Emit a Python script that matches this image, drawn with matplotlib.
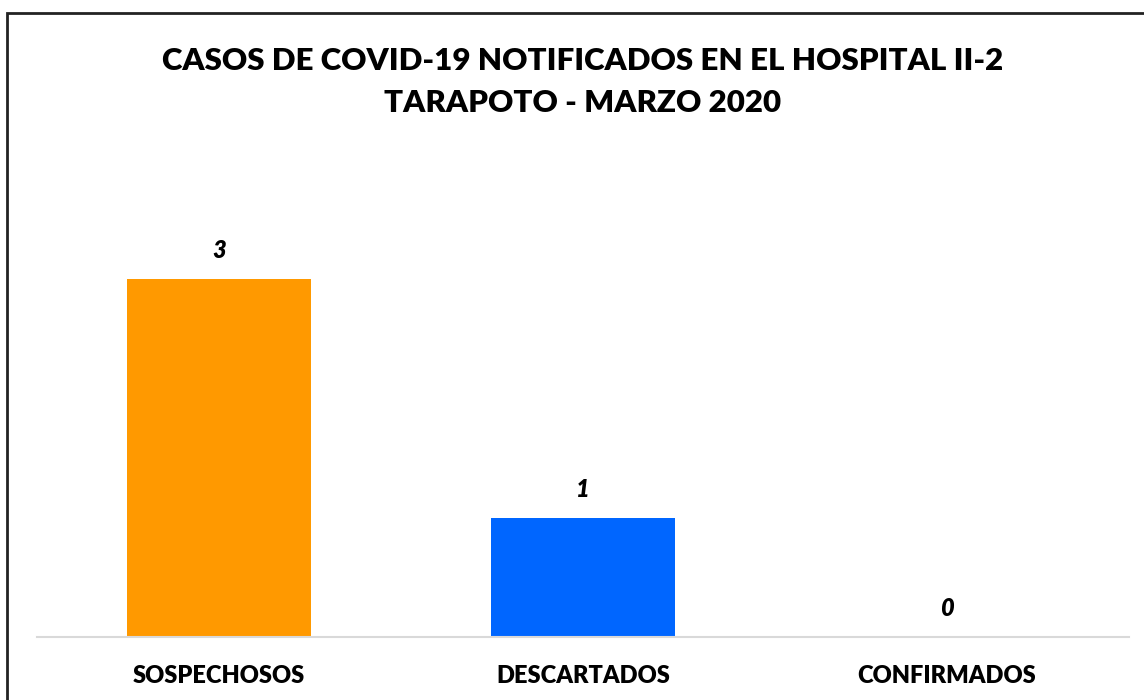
import matplotlib.pyplot as plt
from matplotlib.patches import Rectangle

# chart data
categories = ["SOSPECHOSOS", "DESCARTADOS", "CONFIRMADOS"]
cases = [3, 1, 0]
bar_colors = ["#FF9900", "#0066FF", "#A5A5A5"]
title = "CASOS DE COVID-19 NOTIFICADOS EN EL HOSPITAL II-2\nTARAPOTO - MARZO 2020"

plt.rcParams["font.family"] = ["Lato", "DejaVu Sans"]

fig = plt.figure(figsize=(11.44, 7.0), dpi=100)
ax = fig.add_axes([37 / 1144, 63 / 700, 1092 / 1144, 418.25 / 700])

x = range(len(categories))
ax.bar(x, cases, width=0.506, color=bar_colors)
for i, v in enumerate(cases):
    ax.text(i, v + 0.235, str(v), ha="center", va="center",
            fontsize=17, fontweight="heavy", fontstyle="italic")

ax.set_xlim(-0.5, len(categories) - 0.5)
ax.set_ylim(0, 3.5)
ax.set_xticks(list(x))
ax.set_xticklabels(categories, fontsize=17, fontweight="heavy")
ax.tick_params(axis="x", length=0, pad=20)
ax.set_yticks([])
for s in ["top", "right", "left"]:
    ax.spines[s].set_visible(False)
ax.spines["bottom"].set_color("#D9D9D9")
ax.spines["bottom"].set_linewidth(1.5)

# title centred over the plot area rather than the figure
fig.text(583 / 1144, 1 - 82 / 700, title, ha="center", va="center",
         fontsize=22.5, fontweight="heavy", linespacing=1.6)

# outer frame, runs off the right and bottom edges like the original
fig.patches.append(Rectangle((7 / 1144, -0.05), 1.2, 1 - 13 / 700 + 0.05,
                             transform=fig.transFigure, fill=False,
                             edgecolor="#222222", linewidth=2))

fig.savefig("out.png", dpi=100)
